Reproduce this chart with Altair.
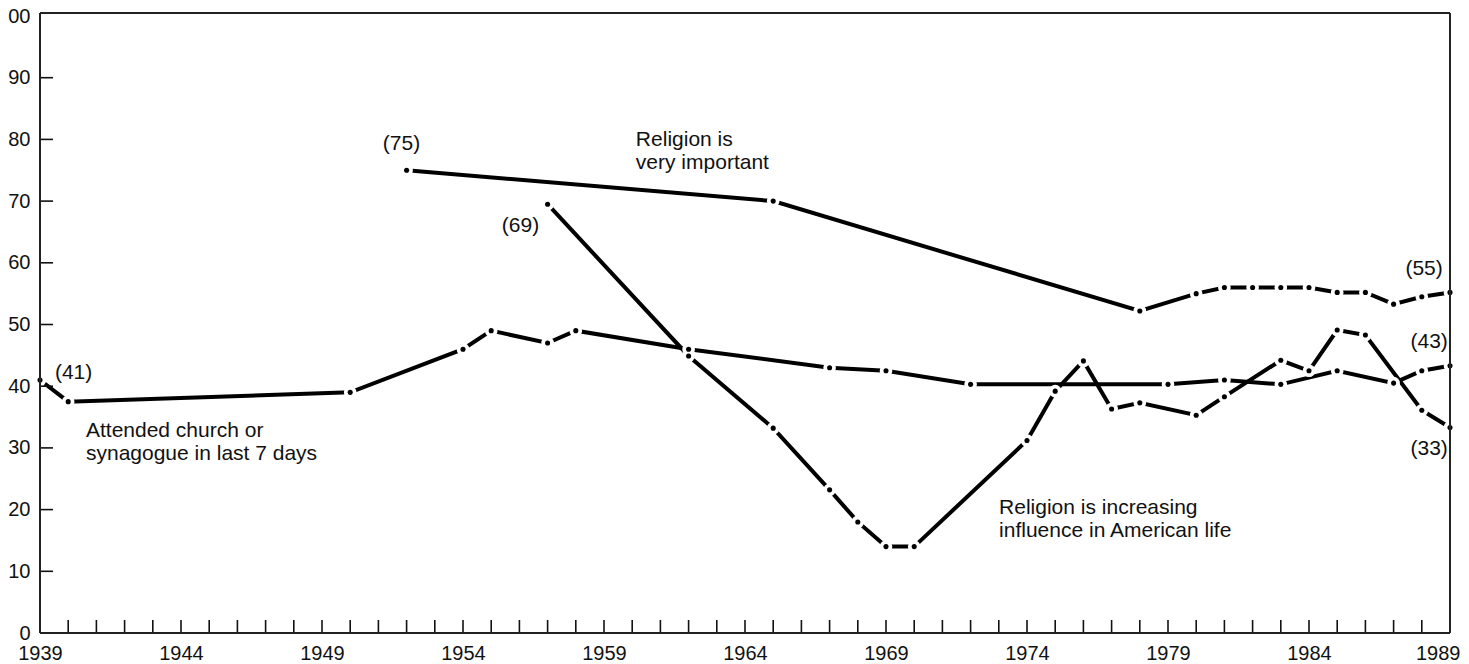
import altair as alt
import pandas as pd

# ---- data ----
church_years = [1939, 1940, 1950, 1954, 1955, 1957, 1958, 1962, 1967, 1969, 1972, 1979, 1981, 1983, 1985, 1987, 1988, 1989]
church_vals = [41, 37.5, 39, 46, 49, 47, 49, 46, 43, 42.5, 40.3, 40.3, 41, 40.3, 42.5, 40.5, 42.5, 43.3]

important_years = [1952, 1965, 1978, 1980, 1981, 1982, 1983, 1984, 1985, 1986, 1987, 1988, 1989]
important_vals = [75, 70, 52.2, 55, 56, 56, 56, 56, 55.2, 55.2, 53.3, 54.5, 55.2]

increasing_years = [1957, 1962, 1965, 1967, 1968, 1969, 1970, 1974, 1975, 1976, 1977, 1978, 1980, 1981, 1983, 1984, 1985, 1986, 1988, 1989]
increasing_vals = [69.5, 44.9, 33.2, 23.2, 18, 14, 14, 31.2, 39.2, 44.1, 36.3, 37.3, 35.3, 38.3, 44.2, 42.5, 49.1, 48.3, 36.1, 33.3]

series_names = ["church", "important", "increasing"]

x_label_years = [1939, 1944, 1949, 1954, 1959, 1964, 1969, 1974, 1979, 1984, 1989]
x_tick_years = list(range(1940, 1989))
y_label_vals = list(range(0, 101, 10))
y_tick_vals = list(range(10, 100, 10))

# annotations (text, anchor year, anchor value)
left_texts = ["(41)", "Religion is\nvery important", "Attended church or\nsynagogue in last 7 days",
              "Religion is increasing\ninfluence in American life"]
left_x = [1939.53, 1960.13, 1940.63, 1973.01]
left_y = [41.2, 78.9, 31.77, 19.29]

center_texts = ["(75)", "(69)", "(55)", "(43)", "(33)"]
center_x = [1951.82, 1956.04, 1988.08, 1988.26, 1988.26]
center_y = [78.3, 65.06, 58.0, 46.2, 28.85]

# ---- tables ----
lines_df = pd.concat([
    pd.DataFrame({"year": church_years, "value": church_vals, "series": series_names[0]}),
    pd.DataFrame({"year": important_years, "value": important_vals, "series": series_names[1]}),
    pd.DataFrame({"year": increasing_years, "value": increasing_vals, "series": series_names[2]}),
], ignore_index=True)

W, H = 1410, 617
FONT = "Liberation Sans"

xscale = alt.Scale(domain=[1939, 1989], nice=False, zero=False)
yscale = alt.Scale(domain=[0, 100], nice=False, zero=False)

x_axis = alt.Axis(
    values=x_label_years, format="d", ticks=False, domain=False, grid=False,
    labelFontSize=20, labelPadding=10, labelFont=FONT, labelColor="#111", title=None,
    labelFlush=False, labelOverlap=False,
    labelAlign={"condition": {"test": "datum.value == 1989", "value": "right"}, "value": "center"},
    labelOffset={"condition": {"test": "datum.value == 1989", "value": 10}, "value": 0})
y_axis = alt.Axis(
    values=y_label_vals, format="d", ticks=False, domain=False, grid=False,
    labelFontSize=20, labelPadding=10, labelFont=FONT, labelColor="#111", title=None,
    labelFlush=False, labelOverlap=False)

x_enc = alt.X("year:Q", scale=xscale, axis=x_axis, title=None)
y_enc = alt.Y("value:Q", scale=yscale, axis=y_axis, title=None)

base = alt.Chart(lines_df)
lines = base.mark_line(color="#000", strokeWidth=4).encode(x=x_enc, y=y_enc, detail="series:N", order="year:Q")
halos = base.mark_circle(color="white", opacity=1, size=160).encode(x=x_enc, y=y_enc)
dots = base.mark_circle(color="#000", opacity=1, size=26).encode(x=x_enc, y=y_enc)

xticks = alt.Chart(pd.DataFrame({"year": x_tick_years})).mark_rule(color="#111", strokeWidth=1.6).encode(
    x=x_enc, y=alt.value(H), y2=alt.value(H - 13))
yticks = alt.Chart(pd.DataFrame({"value": y_tick_vals})).mark_rule(color="#111", strokeWidth=1.6).encode(
    y=y_enc, x=alt.value(0), x2=alt.value(13))

one = alt.Data(values=[{"k": 0}])
frame_top = alt.Chart(one).mark_rule(color="#222", strokeWidth=2).encode(
    x=alt.value(0), x2=alt.value(W), y=alt.value(-3))
frame_bottom = alt.Chart(one).mark_rule(color="#222", strokeWidth=2).encode(
    x=alt.value(0), x2=alt.value(W), y=alt.value(H))
frame_left = alt.Chart(one).mark_rule(color="#222", strokeWidth=2).encode(
    x=alt.value(0), y=alt.value(-3), y2=alt.value(H))
frame_right = alt.Chart(one).mark_rule(color="#222", strokeWidth=2).encode(
    x=alt.value(W), y=alt.value(-3), y2=alt.value(H))

left_df = pd.DataFrame({"year": left_x, "value": left_y, "label": left_texts})
center_df = pd.DataFrame({"year": center_x, "value": center_y, "label": center_texts})

text_left = alt.Chart(left_df).mark_text(
    align="left", baseline="alphabetic", fontSize=21, font=FONT, lineBreak="\n", lineHeight=23, color="#111"
).encode(x=x_enc, y=y_enc, text="label:N")
text_center = alt.Chart(center_df).mark_text(
    align="center", baseline="alphabetic", fontSize=21, font=FONT, color="#111"
).encode(x=x_enc, y=y_enc, text="label:N")

chart = alt.layer(
    lines, halos, dots, xticks, yticks,
    frame_top, frame_bottom, frame_left, frame_right,
    text_left, text_center
).properties(
    width=W, height=H,
    autosize=alt.AutoSizeParams(type="none"),
    padding={"left": 32, "top": 8, "right": 11, "bottom": 31},
    background="white"
).configure_view(stroke=None)

chart.save("out.html", embed_options={"renderer": "svg", "actions": False})
